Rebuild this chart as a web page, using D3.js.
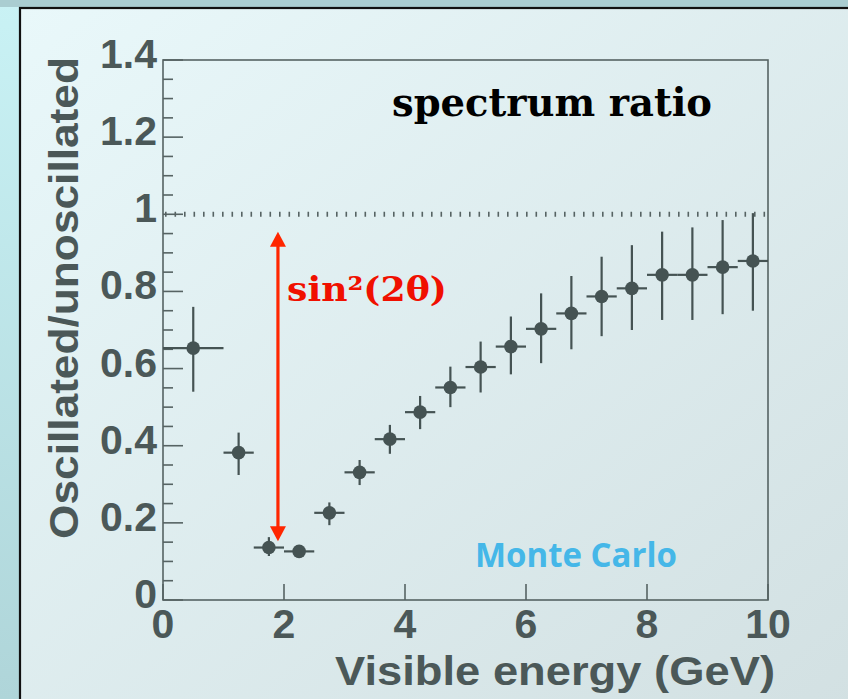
<!DOCTYPE html>
<html>
<head>
<meta charset="utf-8">
<script src="https://cdn.jsdelivr.net/npm/d3@7"></script>
<style>
  html, body { margin: 0; padding: 0; overflow: hidden; }
  svg { display: block; }
</style>
</head>
<body>
<script>
const width = 848
const height = 699

// energy bins (GeV) and ratio values
const binLow  = [0, 1, 1.5, 2, 2.5, 3, 3.5, 4, 4.5, 5, 5.5, 6, 6.5, 7, 7.5, 8, 8.5, 9, 9.5]
const binHigh = [1, 1.5, 2, 2.5, 3, 3.5, 4, 4.5, 5, 5.5, 6, 6.5, 7, 7.5, 8, 8.5, 9, 9.5, 10]
const ratio   = [0.653, 0.382, 0.136, 0.126, 0.226, 0.331, 0.417, 0.487, 0.551, 0.604, 0.657, 0.703, 0.743, 0.787, 0.808, 0.843, 0.843, 0.863, 0.879]
const errUp   = [0.107, 0.052, 0.027, 0.015, 0.027, 0.032, 0.037, 0.042, 0.054, 0.066, 0.078, 0.092, 0.097, 0.103, 0.112, 0.112, 0.123, 0.122, 0.124]
const errDown = [0.113, 0.058, 0.022, 0.015, 0.032, 0.033, 0.038, 0.044, 0.051, 0.066, 0.072, 0.089, 0.093, 0.103, 0.108, 0.117, 0.117, 0.122, 0.129]

const xTicks = [0, 2, 4, 6, 8, 10]
const yTicks = [0, 0.2, 0.4, 0.6, 0.8, 1, 1.2, 1.4]
const yMinor = d3.range(0, 1.4001, 0.05)

const data = ratio.map((v, i) => ({
    lo: binLow[i], hi: binHigh[i], mid: (binLow[i] + binHigh[i]) / 2,
    v: v, up: errUp[i], down: errDown[i]
}))

const margin = {left: 163, top: 60, right: 80, bottom: 99}
const x = d3.scaleLinear().domain([0, 10]).range([margin.left, width - margin.right])
const y = d3.scaleLinear().domain([0, 1.4]).range([height - margin.bottom, margin.top])

const axisColor = "#566363"
const markColor = "#455353"
const labelFont = "'Liberation Sans', Arial, sans-serif"

const svg = d3.select("body").append("svg")
    .attr("width", width)
    .attr("height", height)

const defs = svg.append("defs")
const outerGrad = defs.append("linearGradient").attr("id", "outer")
    .attr("x1", 0).attr("y1", 0).attr("x2", 0).attr("y2", 1)
outerGrad.append("stop").attr("offset", 0).attr("stop-color", "#c9f2f5")
outerGrad.append("stop").attr("offset", 1).attr("stop-color", "#afd5d9")

const panelGrad = defs.append("linearGradient").attr("id", "panel")
    .attr("x1", 0).attr("y1", 0).attr("x2", 1).attr("y2", 1)
panelGrad.append("stop").attr("offset", 0).attr("stop-color", "#e9f8fa")
panelGrad.append("stop").attr("offset", 1).attr("stop-color", "#d2e0e2")

// slide background + panel
svg.append("rect").attr("width", width).attr("height", height).attr("fill", "url(#outer)")
svg.append("rect").attr("x", 0).attr("y", 0).attr("width", width).attr("height", 7)
    .attr("fill", "#aacdd1")
svg.append("rect")
    .attr("x", 20).attr("y", 8)
    .attr("width", width).attr("height", height)
    .attr("fill", "url(#panel)")
    .attr("stroke", "#111")
    .attr("stroke-width", 2.2)

// frame
svg.append("rect")
    .attr("x", x(0)).attr("y", y(1.4))
    .attr("width", x(10) - x(0)).attr("height", y(0) - y(1.4))
    .attr("fill", "none")
    .attr("stroke", axisColor)
    .attr("stroke-width", 1.6)

// y ticks (inside, pointing right)
svg.append("g").selectAll("line")
    .data(yMinor)
    .join("line")
    .attr("x1", x(0))
    .attr("x2", (d, i) => x(0) + (i % 4 === 0 ? 20 : 10))
    .attr("y1", d => y(d)).attr("y2", d => y(d))
    .attr("stroke", axisColor)
    .attr("stroke-width", 1.6)

// x ticks (inside, pointing up)
svg.append("g").selectAll("line")
    .data(xTicks)
    .join("line")
    .attr("x1", d => x(d)).attr("x2", d => x(d))
    .attr("y1", y(0)).attr("y2", y(0) - 16)
    .attr("stroke", axisColor)
    .attr("stroke-width", 1.6)

// tick labels
svg.append("g").selectAll("text")
    .data(yTicks)
    .join("text")
    .attr("x", x(0) - 6)
    .attr("y", d => y(d) + 8)
    .attr("text-anchor", "end")
    .attr("font-family", labelFont)
    .attr("font-weight", "bold")
    .attr("font-size", 41)
    .attr("fill", "#4b5858")
    .text(d => d3.format("~g")(d))

svg.append("g").selectAll("text")
    .data(xTicks)
    .join("text")
    .attr("x", d => x(d))
    .attr("y", y(0) + 38)
    .attr("text-anchor", "middle")
    .attr("font-family", labelFont)
    .attr("font-weight", "bold")
    .attr("font-size", 41)
    .attr("fill", "#4b5858")
    .text(d => d)

// axis titles
svg.append("text")
    .attr("x", 555).attr("y", 685)
    .attr("text-anchor", "middle")
    .attr("font-family", labelFont)
    .attr("font-weight", "bold")
    .attr("font-size", 40)
    .attr("fill", "#4b5858")
    .attr("textLength", 440)
    .attr("lengthAdjust", "spacingAndGlyphs")
    .text("Visible energy (GeV)")

svg.append("text")
    .attr("transform", "translate(78,298) rotate(-90)")
    .attr("text-anchor", "middle")
    .attr("font-family", labelFont)
    .attr("font-weight", "bold")
    .attr("font-size", 40)
    .attr("fill", "#4b5858")
    .attr("textLength", 482)
    .attr("lengthAdjust", "spacingAndGlyphs")
    .text("Oscillated/unoscillated")

// dotted line at ratio = 1
svg.append("line")
    .attr("x1", x(0) + 2).attr("x2", x(10) - 2)
    .attr("y1", y(1)).attr("y2", y(1))
    .attr("stroke", axisColor)
    .attr("stroke-width", 5)
    .attr("stroke-dasharray", "1.6,7.9")

// error bars + markers
const pts = svg.append("g")
pts.selectAll("line.h")
    .data(data)
    .join("line")
    .attr("class", "h")
    .attr("x1", d => x(d.lo)).attr("x2", d => x(d.hi))
    .attr("y1", d => y(d.v)).attr("y2", d => y(d.v))
    .attr("stroke", markColor)
    .attr("stroke-width", 2.2)

pts.selectAll("line.v")
    .data(data)
    .join("line")
    .attr("class", "v")
    .attr("x1", d => x(d.mid)).attr("x2", d => x(d.mid))
    .attr("y1", d => y(d.v + d.up)).attr("y2", d => y(d.v - d.down))
    .attr("stroke", markColor)
    .attr("stroke-width", 2.2)

pts.selectAll("circle")
    .data(data)
    .join("circle")
    .attr("cx", d => x(d.mid))
    .attr("cy", d => y(d.v))
    .attr("r", 6.8)
    .attr("fill", markColor)

// red double arrow showing sin²(2θ)
const arrowX = x(1.90)
const arrowTop = y(0.955)
const arrowBot = y(0.152)
const red = "#ff2600"
svg.append("line")
    .attr("x1", arrowX).attr("x2", arrowX)
    .attr("y1", arrowTop + 12).attr("y2", arrowBot - 12)
    .attr("stroke", red)
    .attr("stroke-width", 3.2)
svg.append("path")
    .attr("d", `M${arrowX},${arrowTop} L${arrowX - 8},${arrowTop + 15} L${arrowX + 8},${arrowTop + 15} Z`)
    .attr("fill", red)
svg.append("path")
    .attr("d", `M${arrowX},${arrowBot} L${arrowX - 8},${arrowBot - 15} L${arrowX + 8},${arrowBot - 15} Z`)
    .attr("fill", red)

svg.append("text")
    .attr("x", 287).attr("y", 301)
    .attr("font-family", "'DejaVu Serif', Georgia, serif")
    .attr("font-weight", "bold")
    .attr("font-size", 34)
    .attr("fill", "#f01000")
    .attr("textLength", 160)
    .attr("lengthAdjust", "spacingAndGlyphs")
    .text("sin²(2θ)")

svg.append("text")
    .attr("x", 392).attr("y", 116)
    .attr("font-family", "'DejaVu Serif', Georgia, serif")
    .attr("font-weight", "bold")
    .attr("font-size", 40)
    .attr("fill", "#000")
    .attr("textLength", 320)
    .attr("lengthAdjust", "spacingAndGlyphs")
    .text("spectrum ratio")

svg.append("text")
    .attr("x", 475).attr("y", 567)
    .attr("font-family", "'Open Sans', sans-serif")
    .attr("font-weight", 700)
    .attr("font-size", 34)
    .attr("fill", "#45b7e8")
    .attr("textLength", 202)
    .attr("lengthAdjust", "spacingAndGlyphs")
    .text("Monte Carlo")
</script>
</body>
</html>
